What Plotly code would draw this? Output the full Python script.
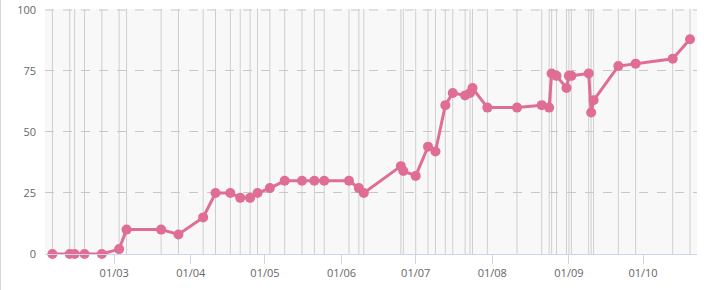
import plotly.graph_objects as go

dates = ["2023-02-04", "2023-02-11", "2023-02-13", "2023-02-17", "2023-02-24",
         "2023-03-03", "2023-03-06", "2023-03-20", "2023-03-27", "2023-04-06",
         "2023-04-11", "2023-04-17", "2023-04-21", "2023-04-25", "2023-04-28",
         "2023-05-03", "2023-05-09", "2023-05-16", "2023-05-21", "2023-05-25",
         "2023-06-04", "2023-06-08", "2023-06-10", "2023-06-25", "2023-06-26",
         "2023-07-01", "2023-07-06", "2023-07-09", "2023-07-13", "2023-07-16",
         "2023-07-21", "2023-07-23", "2023-07-24", "2023-07-30", "2023-08-11",
         "2023-08-21", "2023-08-24", "2023-08-25", "2023-08-27", "2023-08-31",
         "2023-09-01", "2023-09-02", "2023-09-09", "2023-09-10", "2023-09-11",
         "2023-09-21", "2023-09-28", "2023-10-13", "2023-10-20"]
values = [0, 0, 0, 0, 0,
          2, 10, 10, 8, 15,
          25, 25, 23, 23, 25,
          27, 30, 30, 30, 30,
          30, 27, 25, 36, 34,
          32, 44, 42, 61, 66,
          65, 66, 68, 60, 60,
          61, 60, 74, 73, 68,
          73, 73, 74, 58, 63,
          77, 78, 80, 88]
x_ticks = ["2023-03-01", "2023-04-01", "2023-05-01", "2023-06-01",
           "2023-07-01", "2023-08-01", "2023-09-01", "2023-10-01"]
x_tick_labels = ["01/03", "01/04", "01/05", "01/06", "01/07", "01/08", "01/09", "01/10"]
y_ticks = [0, 25, 50, 75, 100]

line_color = "#e06d94"
label_color = "#666666"

fig = go.Figure()
fig.add_trace(go.Scatter(
    x=dates, y=values, mode="lines+markers",
    line=dict(color=line_color, width=3),
    marker=dict(color=line_color, size=10),
    cliponaxis=False, hoverinfo="skip", showlegend=False,
))

shapes = []
for d in dates:
    shapes.append(dict(type="line", xref="x", yref="paper", x0=d, x1=d, y0=0, y1=1,
                       line=dict(color="#cfcfcf", width=1), layer="below"))
# top dashed gridline at the highest tick
shapes.append(dict(type="line", xref="paper", yref="y", x0=0, x1=1,
                   y0=y_ticks[-1], y1=y_ticks[-1],
                   line=dict(color="#c8c8c8", width=1, dash="dash"), layer="above"))
# left container border
shapes.append(dict(type="line", xref="paper", yref="paper", x0=-45/652, x1=-45/652,
                   y0=-0.2, y1=1.1, line=dict(color="#d8d8d8", width=2)))
fig.update_layout(shapes=shapes)

fig.update_layout(
    width=704, height=290,
    margin=dict(l=45, r=7, t=9, b=36, autoexpand=False),
    paper_bgcolor="white", plot_bgcolor="#f8f8f8",
    font=dict(family="Open Sans", size=11, color=label_color),
    xaxis=dict(
        type="date", range=["2023-02-01", "2023-10-22 20:00"],
        tickvals=x_ticks, ticktext=x_tick_labels, automargin=False,
        ticks="outside", ticklen=9, tickcolor="#ccd6eb", tickwidth=1,
        showgrid=False, showline=True, linecolor="#ccd6eb", linewidth=1,
        zeroline=False, tickfont=dict(size=11, color=label_color),
    ),
    yaxis=dict(
        range=[0, 100.4], tickvals=y_ticks, showgrid=True, automargin=False,
        gridcolor="#c8c8c8", griddash="dash", gridwidth=1,
        zeroline=False, showline=False, ticks="",
        ticklabelstandoff=8, tickfont=dict(size=11, color=label_color),
    ),
)

fig.write_html("out.html")
